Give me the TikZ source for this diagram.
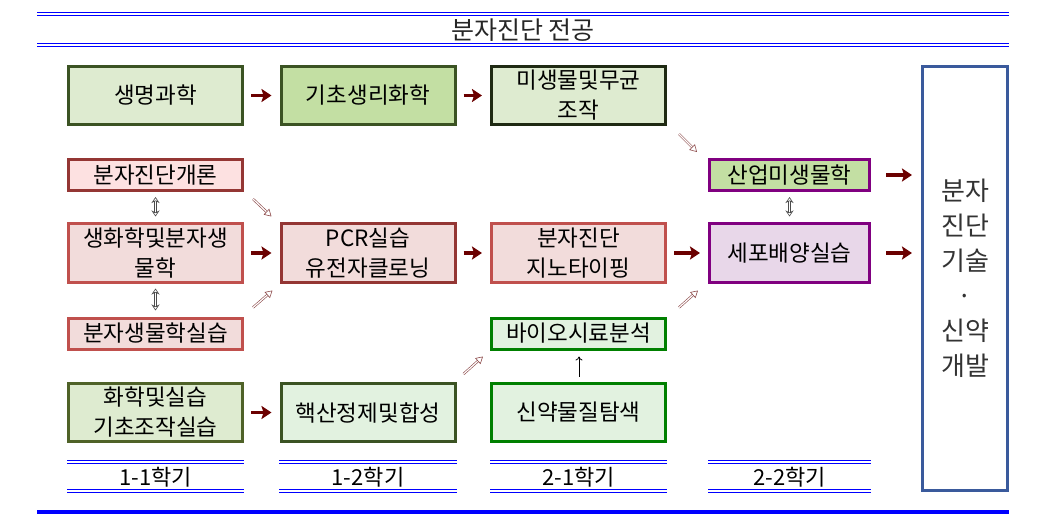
\documentclass[tikz,border=0pt]{standalone}
\usepackage{fontspec}
\setmainfont{Noto Sans CJK KR}
\usetikzlibrary{arrows.meta,positioning,calc}
\definecolor{ruleblue}{HTML}{0000FF}
\definecolor{bigblue}{HTML}{3A5A9C}
\definecolor{arrowred}{HTML}{6B0000}
\definecolor{hollowred}{HTML}{8C4A4A}
\definecolor{olive}{HTML}{3B5323}
\definecolor{darkolive}{HTML}{1F2A13}
\definecolor{midolive}{HTML}{4F6228}
\definecolor{lightgreen}{HTML}{DEEBD0}
\definecolor{midgreen}{HTML}{C3DFA3}
\definecolor{palegreen}{HTML}{E2F2E0}
\definecolor{darkpink}{HTML}{943634}
\definecolor{redline}{HTML}{C0504D}
\definecolor{pink}{HTML}{F2DCDB}
\definecolor{lightpink}{HTML}{FDE1E1}
\definecolor{green}{HTML}{008000}
\definecolor{purple}{HTML}{800080}
\definecolor{lilac}{HTML}{E8D7E9}

\begin{document}
\begin{tikzpicture}
[x=1pt,y=-1pt,
box/.style={draw,line width=3pt,inner sep=2pt,align=center,
  font=\fontsize{22.5}{30}\selectfont},
wide/.style={minimum width=174pt},
narrow/.style={minimum width=160pt},
tall/.style={minimum height=58pt},
short/.style={minimum height=31pt},
fwd/.style={arrowred,line width=3.8pt,-{Stealth[length=10pt,width=13pt,inset=2pt]},
  shorten <=7pt,shorten >=8pt},
slant/.style={hollowred,line width=0.6pt,double=white,double distance=1.2pt,
  -{Triangle[open,length=7pt,width=8pt]}},
both/.style={black!70,line width=0.6pt,double=white,double distance=1.2pt,
  {Stealth[open,length=6pt,width=8pt]}-{Stealth[open,length=6pt,width=8pt]},
  shorten <=5pt,shorten >=6pt},
up/.style={black,line width=0.8pt,-{To[length=4pt,width=7pt]},shorten <=5pt,shorten >=6pt},
twin/.style={ruleblue,line width=1.2pt,double=white,double distance=1.8pt},
thin twin/.style={ruleblue,line width=1pt,double=white,double distance=1.5pt},
term/.style={font=\fontsize{22}{24}\selectfont}]
\useasboundingbox (0,0) rectangle (1037,516);
%% Title
\draw[twin] (37,14) -- (1009,14);
\draw[twin] (37,45) -- (1009,45);
\node[font=\fontsize{25}{30}\selectfont,text=black!85] (title) at (523,30) {분자진단 전공};
\draw[ruleblue,line width=4pt] (37,512) -- (1009,512);
%% Courses
% first year, first term
\node[box,wide,tall,draw=olive,fill=lightgreen] (life) at (155.5,95.5) {생명과학};
\node[box,wide,short,draw=darkpink,fill=lightpink] (intro) at (155.5,175) {분자진단개론};
\node[box,wide,tall,draw=redline,fill=pink] (biochem) at (155.5,253) {생화학및분자생\\물학};
\node[box,wide,short,draw=redline,fill=pink] (mollab) at (155.5,333.5) {분자생물학실습};
\node[box,wide,tall,draw=midolive,fill=lightgreen] (chem) at (155.5,412.5) {화학및실습\\기초조작실습};
% first year, second term
\node[box,wide,tall,draw=olive,fill=midgreen] (physio) at (368,95.5) {기초생리화학};
\node[box,wide,tall,draw=darkpink,fill=pink] (pcr) at (368,253) {PCR실습\\유전자클로닝};
\node[box,wide,tall,draw=olive,fill=palegreen] (nucleic) at (368,412.5) {핵산정제및합성};
% second year, first term
\node[box,wide,tall,draw=darkolive,fill=lightgreen] (micro) at (578.5,95.5) {미생물및무균\\조작};
\node[box,wide,tall,draw=redline,fill=pink] (geno) at (578.5,253) {분자진단\\지노타이핑};
\node[box,wide,short,draw=green,fill=palegreen] (sample) at (578.5,333.5) {바이오시료분석};
\node[box,wide,tall,draw=green,fill=palegreen,line width=3.5pt] (drug) at (578.5,412.5) {신약물질탐색};
% second year, second term
\node[box,narrow,short,draw=purple,fill=midgreen] (indus) at (789.5,175) {산업미생물학};
\node[box,narrow,tall,draw=purple,fill=lilac] (cell) at (789.5,253) {세포배양실습};
% goal
\node[draw=bigblue,line width=3pt,minimum width=85pt,minimum height=424pt,align=center,
  text=black!80,font=\fontsize{26}{35}\selectfont] (goal) at (965,278.5)
  {분자\\진단\\기술\\·\\신약\\개발};
%% Arrows
\draw[fwd] (life) -- (physio);
\draw[fwd] (physio) -- (micro);
\draw[fwd] (biochem) -- (pcr);
\draw[fwd] (pcr) -- (geno);
\draw[fwd] (geno) -- (cell);
\draw[fwd] (chem) -- (nucleic);
\draw[fwd,shorten <=15pt,shorten >=9pt] (indus.east) -- (indus.east -| goal.west);
\draw[fwd,shorten <=15pt,shorten >=9pt] (cell.east) -- (cell.east -| goal.west);
\draw[both] (intro) -- (biochem);
\draw[both] (biochem) -- (mollab);
\draw[both] (indus) -- (cell);
\draw[up] (drug.north -| 579,0) -- (sample.south -| 579,0);
\draw[slant] ($(intro.south east)+(9,7)$) -- ($(pcr.north west)+(-8,-6)$);
\draw[slant] ($(mollab.north east)+(9,-9)$) -- ($(pcr.south west)+(-7,7)$);
\draw[slant] ($(nucleic.north east)+(7,-8)$) -- ($(sample.south west)+(-7,6)$);
\draw[slant] ($(micro.south east)+(12,8)$) -- ($(indus.north west)+(-11,-6)$);
\draw[slant] ($(sample.north east)+(12,-9)$) -- ($(cell.south west)+(-10,7)$);
%% Terms
\foreach \c/\w/\t [count=\i] in {155.5/177/1-1학기,368/178/1-2학기,578.5/177/2-1학기,789.5/163/2-2학기}{
  \draw[thin twin] (\c-\w/2,462) -- (\c+\w/2,462);
  \draw[thin twin] (\c-\w/2,491) -- (\c+\w/2,491);
  \node[term] (term\i) at (\c,477) {\t};
}
\end{tikzpicture}
\end{document}
